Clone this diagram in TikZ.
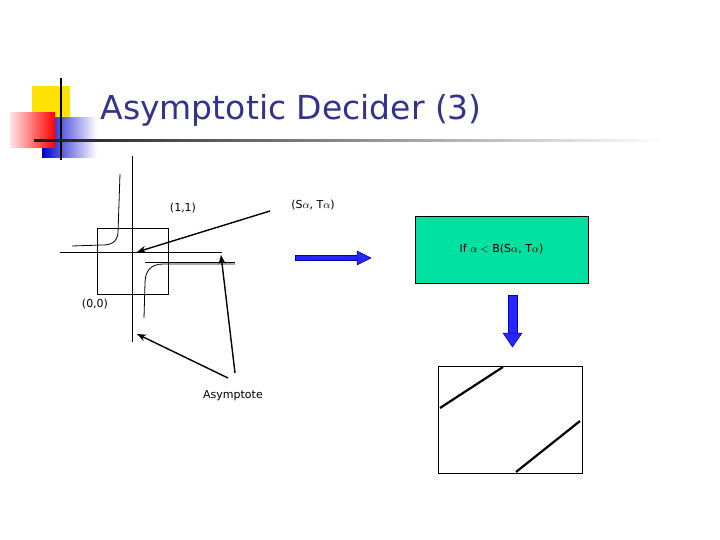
\documentclass[tikz,border=0pt]{standalone}
\usepackage{fontspec}
\setmainfont{DejaVu Sans}
\usetikzlibrary{arrows.meta}
\definecolor{titleblue}{RGB}{51,51,140}
\definecolor{boxgreen}{RGB}{0,224,160}
\begin{document}
\begin{tikzpicture}[x=1pt,y=-1pt,
  thin/.style={line width=0.8pt},
  ptr/.style={line width=1.4pt,-{Stealth[length=9pt,width=7pt]}},
  fat/.style={draw=blue!70!black,fill=blue!85!white,line width=0.5pt},
  lbl/.style={font=\fontsize{11}{13}\selectfont,inner sep=1pt}]
\useasboundingbox (0,0) rectangle (720,540);
% logo
\fill[yellow!85!orange] (32,86) rectangle (70,118);
\shade[left color=blue!80!black,right color=white] (42,118) rectangle (97,158);
\shade[left color=red!10,right color=red] (10,113) rectangle (55,148);
\draw[line width=2.5pt] (61,78) -- (61,160);
\shade[left color=black!90,right color=white] (34,139.5) rectangle (665,142);
\node[text=titleblue,font=\fontsize{33}{38}\selectfont,anchor=west] (title) at (97,110) {Asymptotic Decider (3)};
% left diagram
\draw[thin] (97,228) rectangle (168,294);
\draw[thin] (132,156) -- (132,342);
\draw[thin] (60,252) -- (222,252);
\draw[thin] (145,262) -- (235,262);
\draw[thin] (120,174) -- (118,233) .. controls (117,243) and (110,245) .. (102,245) -- (72,246);
\draw[thin] (235,264) -- (163,264) .. controls (150,264) and (145,272) .. (145,283) -- (144,318);
\node[lbl] (p11) at (183,208) {(1,1)};
\node[lbl] (p00) at (95,304) {(0,0)};
\node[lbl] (asy) at (233,396) {Asymptote};
\node[lbl] (st) at (313,205) {(S$\alpha$, T$\alpha$)};
\coordinate (c) at (137,252);
\coordinate (a1) at (137,334);
\coordinate (a2) at (221,255);
\draw[ptr] (270,211) -- (c);
\draw[ptr] (228,378) -- (a1);
\draw[ptr] (235,373) -- (a2);
% right
\fill[fat] (295,255.5) rectangle (357,260.5);
\fill[fat] (357,251) -- (371,258) -- (357,265) -- cycle;
\node[draw,fill=boxgreen,minimum width=173pt,minimum height=67pt,inner sep=0pt,lbl] (cond) at (501.5,249.5) {If $\alpha <$ B(S$\alpha$, T$\alpha$)};
\fill[fat] (508,295) rectangle (517,333);
\fill[fat] (503,333) -- (522,333) -- (512.5,347) -- cycle;
\node[draw,thin,minimum width=144pt,minimum height=107pt,inner sep=0pt] (res) at (510,419.5) {};
\draw[line width=2.2pt] (440,408) -- (503,367);
\draw[line width=2.2pt] (516,472) -- (580,421);
\end{tikzpicture}
\end{document}
